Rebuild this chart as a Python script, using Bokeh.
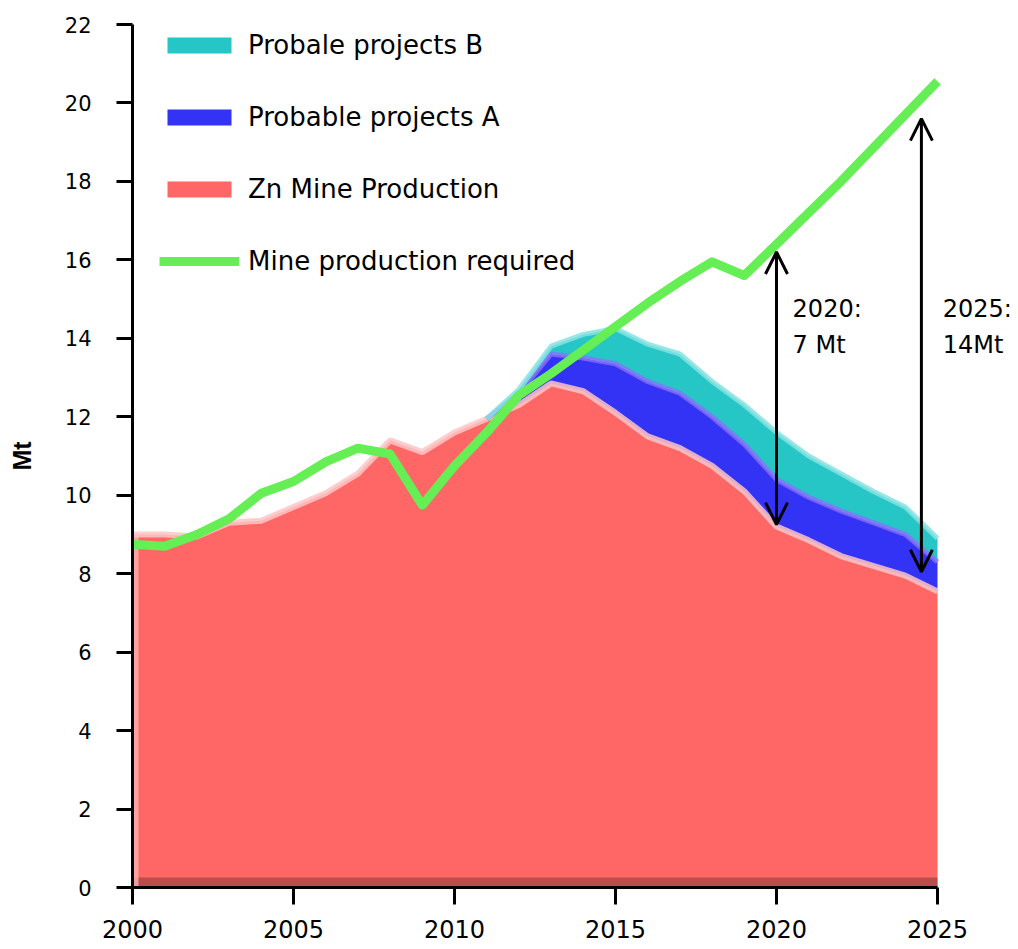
import numpy as np
from bokeh.plotting import figure
from bokeh.models import (ColumnDataSource, Range1d, FixedTicker, Legend, LegendItem,
                          Arrow, OpenHead, Label)
from bokeh.embed import file_html
from bokeh.resources import INLINE

# ---------------- data ----------------
years = list(range(2000, 2026))
zn_mine = [9.0, 9.0, 8.95, 9.3, 9.35, 9.7, 10.05, 10.55, 11.4, 11.1, 11.6, 11.95, 12.3,
           12.85, 12.65, 12.1, 11.5, 11.2, 10.75, 10.1, 9.2, 8.85, 8.45, 8.2, 7.95, 7.55]
projects_a = [0, 0, 0, 0, 0, 0, 0, 0, 0, 0, 0, 0, 0.3,
              0.75, 0.85, 1.25, 1.4, 1.4, 1.25, 1.2, 1.2, 1.1, 1.15, 1.1, 1.05, 0.75]
projects_b = [0, 0, 0, 0, 0, 0, 0, 0, 0, 0, 0, 0, 0.1,
              0.2, 0.6, 0.9, 0.95, 1.0, 0.9, 1.0, 1.2, 1.05, 0.95, 0.8, 0.7, 0.6]
required = [8.75, 8.7, 9.0, 9.4, 10.05, 10.35, 10.85, 11.2, 11.05, 9.75, 10.75, 11.6, 12.55,
            13.1, 13.7, 14.3, 14.9, 15.45, 15.95, 15.6, 16.4, 17.2, 18.0, 18.85, 19.7, 20.55]

x_ticks = [2000, 2005, 2010, 2015, 2020, 2025]
y_ticks = list(range(0, 23, 2))

gap_years = [2020.0, 2024.5]
gap_top = [16.2, 19.6]
gap_bottom = [9.25, 8.05]
gap_text_x = [2020.5, 2025.16]
gap_text_y = [14.76, 13.82]
gap_text = [("2020:", "7 Mt"), ("2025:", "14Mt")]

series_names = ["Probale projects B", "Probable projects A", "Zn Mine Production",
                "Mine production required"]

# ---------------- derived ----------------
yr = np.array(years, dtype=float)
zn = np.array(zn_mine)
top_a = zn + np.array(projects_a)
top_b = top_a + np.array(projects_b)
mask = yr >= 2011
src = ColumnDataSource(dict(year=years, zn=zn_mine, proj_a=projects_a, proj_b=projects_b,
                            required=required, zero=[0.0] * len(years),
                            top_zn=zn, top_a=np.where(mask, top_a, np.nan),
                            top_b=np.where(mask, top_b, np.nan)))

RED = "#FF6666"
BLUE = "#3333F5"
CYAN = "#26C6C6"
GREEN = "#66EE55"

FRAME_W = 882
X_END = 2000 + FRAME_W / 32.2
p = figure(frame_width=FRAME_W, frame_height=863,
           x_range=Range1d(2000, X_END), y_range=Range1d(0, 22),
           output_backend="svg", toolbar_location=None,
           min_border_left=132, min_border_top=24, min_border_right=0, min_border_bottom=61)
p.outline_line_color = None
p.grid.visible = False
p.background_fill_color = "white"

stack = p.varea_stack(["zn", "proj_a", "proj_b"], x="year", color=[RED, BLUE, CYAN], source=src)
r_zn, r_a, r_b = stack

# highlights / shading to mimic the 3D look
p.line("year", "zero", source=src, line_color="#A84848", line_width=20, line_alpha=0.8)
p.segment(x0=years[0], y0=0, x1=years[0], y1=zn_mine[0], line_color="#FFB0B0",
          line_width=12, line_alpha=0.8)
p.line("year", "top_zn", source=src, line_color="#FFC4C4", line_width=6, line_alpha=0.85)
p.line("year", "top_a", source=src, line_color="#8A70FF", line_width=5, line_alpha=0.8)
p.line("year", "top_b", source=src, line_color="#86E2E2", line_width=5, line_alpha=0.85)

r_req = p.line("year", "required", source=src, line_color=GREEN, line_width=9,
               line_join="round", line_cap="butt")

# gap arrows
for gx, gt, gb in zip(gap_years, gap_top, gap_bottom):
    p.add_layout(Arrow(x_start=gx, y_start=gb, x_end=gx, y_end=gt,
                       line_color="black", line_width=3,
                       start=OpenHead(size=22, line_width=3, line_color="black"),
                       end=OpenHead(size=22, line_width=3, line_color="black")))

for tx, lines in zip(gap_text_x, gap_text):
    for ty, t in zip(gap_text_y, lines):
        p.add_layout(Label(x=tx, y=ty, text=t,
                           text_font="DejaVu Sans", text_font_size="24px",
                           text_baseline="middle", text_align="left", text_color="black"))

# axes
for ax in (p.xaxis, p.yaxis):
    ax.axis_line_width = 3
    ax.axis_line_color = "black"
    ax.major_tick_line_width = 3
    ax.major_tick_line_color = "black"
    ax.major_tick_in = 0
    ax.minor_tick_line_color = None
    ax.major_label_text_color = "black"

p.xaxis.bounds = (2000, 2025)
p.xaxis.ticker = FixedTicker(ticks=x_ticks)
p.xaxis.major_tick_out = 17
p.xaxis.major_label_standoff = 15
p.xaxis.major_label_text_font = "DejaVu Sans"
p.xaxis.major_label_text_font_size = "24px"

p.yaxis.ticker = FixedTicker(ticks=y_ticks)
p.yaxis.major_tick_out = 16
p.yaxis.major_label_standoff = 25
p.yaxis.major_label_text_font = "DejaVu Sans"
p.yaxis.major_label_text_font_size = "21px"
p.yaxis.axis_label = "Mt"
p.yaxis.axis_label_text_font = "Liberation Sans"
p.yaxis.axis_label_text_font_style = "bold"
p.yaxis.axis_label_text_font_size = "25px"
p.yaxis.axis_label_text_color = "black"
p.yaxis.axis_label_standoff = 26

legend = Legend(items=[LegendItem(label=series_names[0], renderers=[r_b]),
                       LegendItem(label=series_names[1], renderers=[r_a]),
                       LegendItem(label=series_names[2], renderers=[r_zn]),
                       LegendItem(label=series_names[3], renderers=[r_req])],
                location=(27, 611), orientation="vertical",
                glyph_width=80, glyph_height=20, label_height=30, spacing=42,
                padding=0, margin=0, label_standoff=9,
                label_text_font="DejaVu Sans", label_text_font_size="26px",
                label_text_color="black",
                background_fill_alpha=0, border_line_color=None)
p.add_layout(legend)

open("out.html", "w").write(file_html(p, INLINE))
